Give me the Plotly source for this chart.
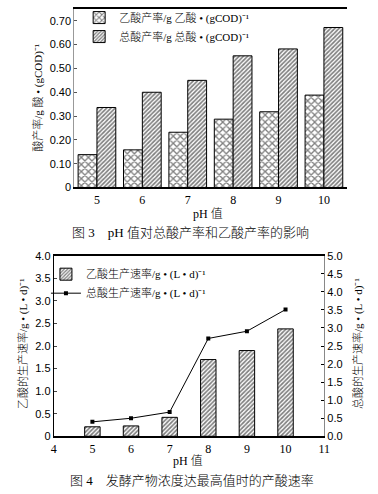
import plotly.graph_objects as go

# ---- data: Figure 3 (yield vs pH) ----
ph_top = ["5", "6", "7", "8", "9", "10"]
acetic_yield = [0.138, 0.158, 0.232, 0.287, 0.318, 0.388]
total_yield = [0.336, 0.400, 0.450, 0.553, 0.582, 0.672]
top_ytickvals = [0, 0.1, 0.2, 0.3, 0.4, 0.5, 0.6, 0.7]
top_yticktext = ["0", "0.10", "0.20", "0.30", "0.40", "0.50", "0.60", "0.70"]

# ---- data: Figure 4 (rates vs pH) ----
ph_bottom = [5, 6, 7, 8, 9, 10]
acetic_rate = [0.21, 0.23, 0.42, 1.70, 1.90, 2.38]
total_rate = [0.40, 0.50, 0.67, 2.71, 2.91, 3.51]
left_tickvals = [0, 0.5, 1.0, 1.5, 2.0, 2.5, 3.0, 3.5, 4.0]
left_ticktext = ["0", "0.5", "1.0", "1.5", "2.0", "2.5", "3.0", "3.5", "4.0"]
right_tickvals = [0, 0.5, 1.0, 1.5, 2.0, 2.5, 3.0, 3.5, 4.0, 4.5, 5.0]
right_ticktext = ["0.0", "0.5", "1.0", "1.5", "2.0", "2.5", "3.0", "3.5", "4.0", "4.5", "5.0"]
bottom_xticks = [4, 5, 6, 7, 8, 9, 10, 11]

W, H = 378, 494
def fx(x): return x / W
def fy(y): return 1 - y / H

SERIF = "Liberation Serif, Noto Sans CJK SC"
SANS = "Liberation Sans, Noto Sans CJK SC"

fig = go.Figure()

DIAG = dict(shape="/", size=3, solidity=0.55, fgcolor="black", bgcolor="white")
CROSS = dict(shape="x", size=5, solidity=0.45, fgcolor="black", bgcolor="white")

fig.add_trace(go.Bar(
    x=ph_top, y=acetic_yield, name="乙酸产率/g 乙酸 • (gCOD)⁻¹",
    marker=dict(color="white", line=dict(color="black", width=1), pattern=CROSS),
    xaxis="x", yaxis="y", legend="legend"))
fig.add_trace(go.Bar(
    x=ph_top, y=total_yield, name="总酸产率/g 总酸 • (gCOD)⁻¹",
    marker=dict(color="white", line=dict(color="black", width=1), pattern=DIAG),
    xaxis="x", yaxis="y", legend="legend"))

fig.add_trace(go.Bar(
    x=ph_bottom, y=acetic_rate, width=0.4, name="乙酸生产速率/g • (L • d)⁻¹",
    marker=dict(color="white", line=dict(color="black", width=1), pattern=DIAG),
    xaxis="x2", yaxis="y2", legend="legend2"))
fig.add_trace(go.Scatter(
    x=ph_bottom, y=total_rate, mode="lines+markers", name="总酸生产速率/g • (L • d)⁻¹",
    line=dict(color="black", width=1), marker=dict(symbol="square", size=4, color="black"),
    xaxis="x2", yaxis="y3", legend="legend2"))

top_dom_x = [fx(73), fx(352)]
top_dom_y = [fy(186), fy(3)]
bot_dom_x = [fx(52), fx(329)]
bot_dom_y = [fy(441), fy(256)]

fig.update_layout(
    width=W, height=H, margin=dict(l=0, r=0, t=0, b=0),
    paper_bgcolor="white", plot_bgcolor="white",
    barmode="group", bargap=0.17, bargroupgap=0,
    font=dict(family=SERIF, size=11, color="black", weight=300),
    xaxis=dict(domain=top_dom_x, anchor="y", type="category", range=[-0.5, 5.5],
               showline=True, linecolor="black", linewidth=2, mirror=True,
               ticks="", showgrid=False, tickfont=dict(family=SERIF, size=12)),
    yaxis=dict(domain=top_dom_y, anchor="x", range=[0, 0.75],
               tickvals=top_ytickvals, ticktext=top_yticktext,
               showline=True, linecolor="#999999", linewidth=1,
               ticks="inside", ticklen=3, tickcolor="#555555", showgrid=False, zeroline=False,
               tickfont=dict(family=SANS, size=11)),
    xaxis2=dict(domain=bot_dom_x, anchor="y2", range=[4, 11], tickvals=bottom_xticks,
                showline=True, linecolor="black", linewidth=2, mirror=True,
                ticks="", showgrid=False, zeroline=False, tickfont=dict(family=SERIF, size=12)),
    yaxis2=dict(domain=bot_dom_y, anchor="x2", range=[0, 4],
                tickvals=left_tickvals, ticktext=left_ticktext,
                showline=True, linecolor="black", linewidth=1,
                ticks="inside", ticklen=3, showgrid=False, zeroline=False,
                tickfont=dict(family=SANS, size=11)),
    yaxis3=dict(overlaying="y2", side="right", anchor="x2", range=[0, 5],
                tickvals=right_tickvals, ticktext=right_ticktext,
                showline=True, linecolor="#888888", linewidth=1,
                ticks="inside", ticklen=3, tickcolor="black", showgrid=False, zeroline=False,
                tickfont=dict(family=SANS, size=11)),
    legend=dict(x=fx(78), y=fy(-3), xanchor="left", yanchor="top",
                bgcolor="rgba(0,0,0,0)", font=dict(family=SERIF, size=11, weight=300),
                tracegroupgap=0, itemwidth=30),
    legend2=dict(x=fx(44), y=fy(260), xanchor="left", yanchor="top",
                 bgcolor="rgba(0,0,0,0)", font=dict(family=SERIF, size=11, weight=300),
                 tracegroupgap=0, itemwidth=30),
    showlegend=True,
)

ann = [
    dict(text="pH 值", x=fx(210), y=fy(213), font=dict(family=SERIF, size=12, weight=300)),
    dict(text="图 3　pH 值对总酸产率和乙酸产率的影响", x=fx(192), y=fy(232), font=dict(family=SERIF, size=13, weight=300)),
    dict(text="酸产率/g 酸 • (gCOD)⁻¹", x=fx(36), y=fy(94), textangle=-90, font=dict(family=SERIF, size=11, weight=300)),
    dict(text="pH 值", x=fx(190), y=fy(466), font=dict(family=SERIF, size=12, weight=300)),
    dict(text="图 4　发酵产物浓度达最高值时的产酸速率", x=fx(194), y=fy(486), font=dict(family=SERIF, size=13, weight=300)),
    dict(text="乙酸的生产速率/g • (L • d)⁻¹", x=fx(20), y=fy(346), textangle=-90, font=dict(family=SERIF, size=11, weight=300)),
    dict(text="总酸的生产速率/g • (L • d)⁻¹", x=fx(363), y=fy(346), textangle=-90, font=dict(family=SERIF, size=11, weight=300)),
]
for a in ann:
    a.update(xref="paper", yref="paper", showarrow=False, xanchor="center", yanchor="middle")
fig.update_layout(annotations=ann)

fig.write_html("out.html", config={"displayModeBar": False},
               post_script="document.body.style.margin='0';document.body.style.overflow='hidden';")
